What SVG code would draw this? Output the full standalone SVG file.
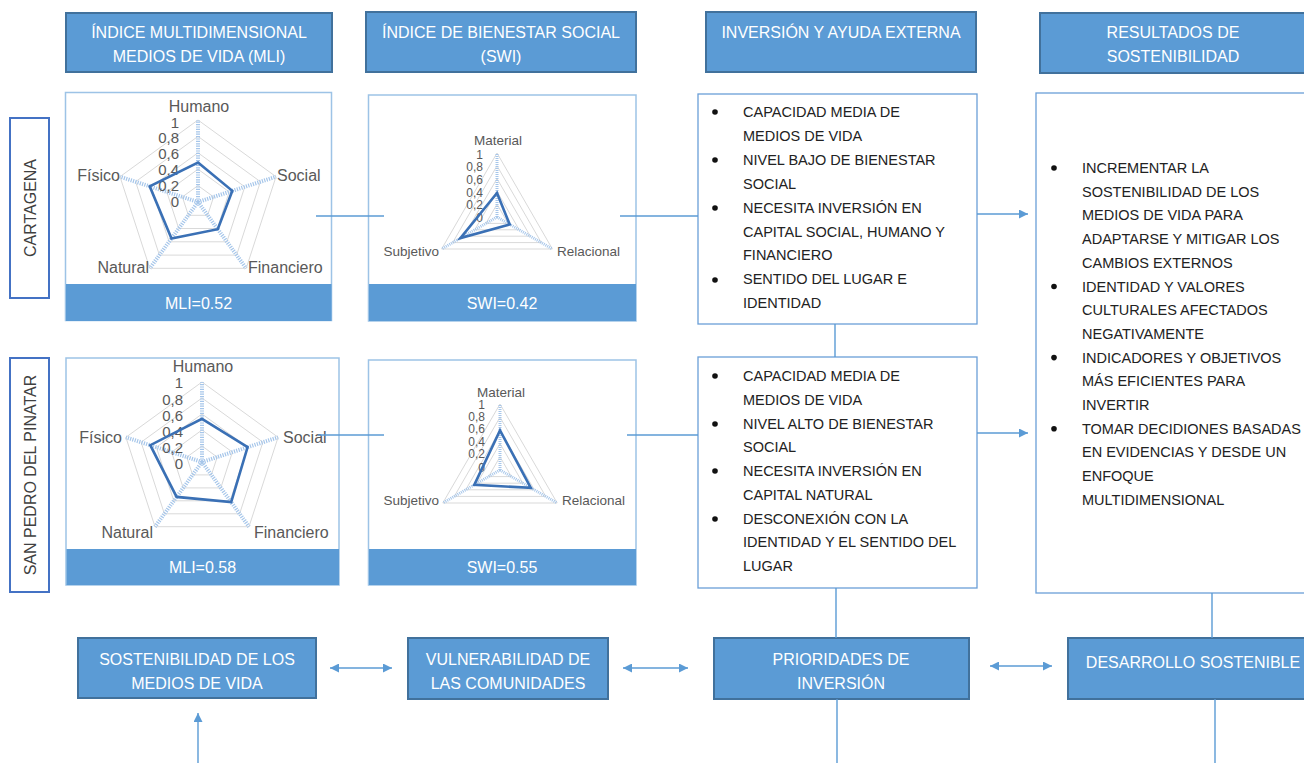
<svg xmlns="http://www.w3.org/2000/svg" width="1304" height="763" viewBox="0 0 1304 763">
<style>
.hdr{fill:#5b9bd5;stroke:#41719c;stroke-width:2}
.ht{font-family:"Liberation Sans",Arial,sans-serif;font-size:16px;fill:#ffffff;text-anchor:middle}
.cbox{fill:#ffffff;stroke:#9dc3e6;stroke-width:1.5}
.band{fill:#5b9bd5}
.tbox{fill:#ffffff;stroke:#6a9fd8;stroke-width:1.3}
.bt{font-family:"Liberation Sans",Arial,sans-serif;font-size:14.5px;fill:#222222}
.bul{fill:#111111}
.lbl{fill:#ffffff;stroke:#4472c4;stroke-width:2}
.lt{font-family:"Liberation Sans",Arial,sans-serif;font-size:16px;fill:#404040;text-anchor:middle}
.grid{fill:none;stroke:#d9d9d9;stroke-width:1}
.axis{stroke:#a6c6ea;stroke-width:4;stroke-dasharray:1.2 1.2}
.axis2{stroke:#a6c6ea;stroke-width:3;stroke-dasharray:1 1}
.data{fill:none;stroke:#3a70b5;stroke-width:2.6;stroke-linejoin:miter}
.ax{font-family:"Liberation Sans",Arial,sans-serif;font-size:16px;fill:#595959}
.axs{font-family:"Liberation Sans",Arial,sans-serif;font-size:13.5px;fill:#595959}
.sc{font-family:"Liberation Sans",Arial,sans-serif;font-size:15px;fill:#595959;text-anchor:end}
.scs{font-family:"Liberation Sans",Arial,sans-serif;font-size:12px;fill:#595959;text-anchor:end}
.val{font-family:"Liberation Sans",Arial,sans-serif;font-size:16px;fill:#ffffff;text-anchor:middle}
.con{stroke:#5b9bd5;stroke-width:1.4;fill:none}
</style>
<defs>
<marker id="ah" viewBox="0 0 10 10" refX="10" refY="5" markerWidth="9" markerHeight="9" markerUnits="userSpaceOnUse" orient="auto-start-reverse">
<path d="M0,0 L10,5 L0,10 z" fill="#5b9bd5"/>
</marker>
</defs>

<!-- Headers -->
<g id="h-mli"><rect class="hdr" x="66" y="13" width="266" height="59"/><text class="ht" x="199" y="37.5">ÍNDICE MULTIDIMENSIONAL</text><text class="ht" x="199" y="61.5">MEDIOS DE VIDA (MLI)</text></g>
<g id="h-swi"><rect class="hdr" x="366" y="12" width="270" height="60"/><text class="ht" x="501" y="37.5">ÍNDICE DE BIENESTAR SOCIAL</text><text class="ht" x="501" y="61.5">(SWI)</text></g>
<g id="h-inv"><rect class="hdr" x="706" y="12" width="270" height="60"/><text class="ht" x="841" y="37.5">INVERSIÓN Y AYUDA EXTERNA</text></g>
<g id="h-res"><rect class="hdr" x="1040" y="13" width="280" height="60"/><text class="ht" x="1173" y="37.5">RESULTADOS DE</text><text class="ht" x="1173" y="61.5">SOSTENIBILIDAD</text></g>

<!-- Row labels -->
<g id="lbl-cartagena"><rect class="lbl" x="10" y="118" width="39" height="180"/><text class="lt" transform="translate(35.5,208) rotate(-90)">CARTAGENA</text></g>
<g id="lbl-sanpedro"><rect class="lbl" x="10" y="358" width="39" height="234"/><text class="lt" transform="translate(35.5,475) rotate(-90)">SAN PEDRO DEL PINATAR</text></g>

<!-- MLI Cartagena -->
<g id="mli-cartagena">
<rect class="cbox" x="65.5" y="92.5" width="266" height="228"/>
<rect class="band" x="66" y="284" width="265.5" height="37"/>
<polygon class="grid" points="198,120 276,176.7 246.2,268.3 149.8,268.3 120,176.7"/>
<polygon class="grid" points="198,136.4 260.4,181.7 236.6,255.1 159.4,255.1 135.6,181.7"/>
<polygon class="grid" points="198,152.8 244.8,186.8 226.9,241.8 169.1,241.8 151.2,186.8"/>
<polygon class="grid" points="198,169.2 229.2,191.9 217.3,228.5 178.7,228.5 166.8,191.9"/>
<polygon class="grid" points="198,185.6 213.6,196.9 207.6,215.3 188.4,215.3 182.4,196.9"/>
<line class="axis" x1="198" y1="202" x2="198" y2="120"/>
<line class="axis" x1="198" y1="202" x2="276" y2="176.7"/>
<line class="axis" x1="198" y1="202" x2="246.2" y2="268.3"/>
<line class="axis" x1="198" y1="202" x2="149.8" y2="268.3"/>
<line class="axis" x1="198" y1="202" x2="120" y2="176.7"/>
<text class="sc" x="179" y="128">1</text><text class="sc" x="179" y="143">0,8</text><text class="sc" x="179" y="159">0,6</text><text class="sc" x="179" y="175">0,4</text><text class="sc" x="179" y="191">0,2</text><text class="sc" x="179" y="207">0</text>
<polygon class="data" points="198,162.6 232.3,190.8 217.8,229.2 171.5,238.5 149.7,186.3"/>
<text class="ax" x="199" y="112" text-anchor="middle">Humano</text>
<text class="ax" x="277" y="181">Social</text>
<text class="ax" x="248" y="273">Financiero</text>
<text class="ax" x="149" y="273" text-anchor="end">Natural</text>
<text class="ax" x="120" y="181" text-anchor="end">Físico</text>
<text class="val" x="198.5" y="308.5">MLI=0.52</text>
</g>

<!-- SWI Cartagena -->
<g id="swi-cartagena">
<rect class="cbox" x="368.5" y="95" width="267.5" height="226"/>
<rect class="band" x="369" y="284" width="267" height="37"/>
<polygon class="grid" points="497,153 552.4,249 441.6,249"/>
<polygon class="grid" points="497,165.8 541.3,242.6 452.7,242.6"/>
<polygon class="grid" points="497,178.6 530.3,236.2 463.7,236.2"/>
<polygon class="grid" points="497,191.4 519.2,229.8 474.8,229.8"/>
<polygon class="grid" points="497,204.2 508.1,223.4 485.9,223.4"/>
<line class="axis2" x1="497" y1="217" x2="497" y2="153"/>
<line class="axis2" x1="497" y1="217" x2="552.4" y2="249"/>
<line class="axis2" x1="497" y1="217" x2="441.6" y2="249"/>
<text class="scs" x="483" y="159">1</text><text class="scs" x="483" y="171">0,8</text><text class="scs" x="483" y="184">0,6</text><text class="scs" x="483" y="197">0,4</text><text class="scs" x="483" y="209">0,2</text><text class="scs" x="483" y="222">0</text>
<polygon class="data" points="497,193 509.7,224.4 460.4,238.1"/>
<text class="axs" x="498" y="145" text-anchor="middle">Material</text>
<text class="axs" x="439" y="256" text-anchor="end">Subjetivo</text>
<text class="axs" x="557" y="256">Relacional</text>
<text class="val" x="502" y="308.5">SWI=0.42</text>
</g>

<!-- MLI San Pedro -->
<g id="mli-sanpedro">
<rect class="cbox" x="66" y="358" width="273" height="227"/>
<rect class="band" x="66.5" y="549" width="272.5" height="36"/>
<polygon class="grid" points="202,382 278.1,437.3 249,526.7 155,526.7 125.9,437.3"/>
<polygon class="grid" points="202,398 262.9,442.2 239.6,513.8 164.4,513.8 141.1,442.2"/>
<polygon class="grid" points="202,414 247.6,447.2 230.2,500.8 173.8,500.8 156.4,447.2"/>
<polygon class="grid" points="202,430 232.4,452.1 220.8,487.9 183.2,487.9 171.6,452.1"/>
<polygon class="grid" points="202,446 217.2,457.1 211.4,474.9 192.6,474.9 186.8,457.1"/>
<line class="axis" x1="202" y1="462" x2="202" y2="382"/>
<line class="axis" x1="202" y1="462" x2="278.1" y2="437.3"/>
<line class="axis" x1="202" y1="462" x2="249" y2="526.7"/>
<line class="axis" x1="202" y1="462" x2="155" y2="526.7"/>
<line class="axis" x1="202" y1="462" x2="125.9" y2="437.3"/>
<text class="sc" x="183" y="388">1</text><text class="sc" x="183" y="405">0,8</text><text class="sc" x="183" y="421">0,6</text><text class="sc" x="183" y="437">0,4</text><text class="sc" x="183" y="453">0,2</text><text class="sc" x="183" y="469">0</text>
<polygon class="data" points="202,418.8 247.6,447.2 231.2,502.1 176.6,496.9 150.3,445.2"/>
<text class="ax" x="203" y="372" text-anchor="middle">Humano</text>
<text class="ax" x="283" y="443">Social</text>
<text class="ax" x="254" y="538">Financiero</text>
<text class="ax" x="153" y="538" text-anchor="end">Natural</text>
<text class="ax" x="122" y="443" text-anchor="end">Físico</text>
<text class="val" x="202.5" y="573">MLI=0.58</text>
</g>

<!-- SWI San Pedro -->
<g id="swi-sanpedro">
<rect class="cbox" x="368.5" y="360" width="267.5" height="225"/>
<rect class="band" x="369" y="549" width="267" height="36"/>
<polygon class="grid" points="500,404 557.2,503 442.8,503"/>
<polygon class="grid" points="500,417.2 545.7,496.4 454.3,496.4"/>
<polygon class="grid" points="500,430.4 534.3,489.8 465.7,489.8"/>
<polygon class="grid" points="500,443.6 522.9,483.2 477.1,483.2"/>
<polygon class="grid" points="500,456.8 511.4,476.6 488.6,476.6"/>
<line class="axis2" x1="500" y1="470" x2="500" y2="404"/>
<line class="axis2" x1="500" y1="470" x2="557.2" y2="503"/>
<line class="axis2" x1="500" y1="470" x2="442.8" y2="503"/>
<text class="scs" x="485" y="409">1</text><text class="scs" x="485" y="421">0,8</text><text class="scs" x="485" y="433">0,6</text><text class="scs" x="485" y="446">0,4</text><text class="scs" x="485" y="458">0,2</text><text class="scs" x="485" y="472">0</text>
<polygon class="data" points="500,430.4 530.8,487.8 474.3,484.9"/>
<text class="axs" x="501" y="397" text-anchor="middle">Material</text>
<text class="axs" x="439" y="505" text-anchor="end">Subjetivo</text>
<text class="axs" x="562" y="505">Relacional</text>
<text class="val" x="502" y="573">SWI=0.55</text>
</g>

<!-- Text box Cartagena -->
<g id="inv-cartagena">
<rect class="tbox" x="698" y="94" width="279" height="230"/>
<circle class="bul" cx="715" cy="112" r="2.8"/><circle class="bul" cx="715" cy="160" r="2.8"/><circle class="bul" cx="715" cy="208" r="2.8"/><circle class="bul" cx="715" cy="280" r="2.8"/>
<text class="bt" x="743" y="117">CAPACIDAD MEDIA DE<tspan x="743" dy="23.9">MEDIOS DE VIDA</tspan><tspan x="743" dy="23.9">NIVEL BAJO DE BIENESTAR</tspan><tspan x="743" dy="23.9">SOCIAL</tspan><tspan x="743" dy="23.9">NECESITA INVERSIÓN EN</tspan><tspan x="743" dy="23.9">CAPITAL SOCIAL, HUMANO Y</tspan><tspan x="743" dy="23.9">FINANCIERO</tspan><tspan x="743" dy="23.9">SENTIDO DEL LUGAR E</tspan><tspan x="743" dy="23.9">IDENTIDAD</tspan></text>
</g>

<!-- Text box San Pedro -->
<g id="inv-sanpedro">
<rect class="tbox" x="698" y="357" width="279" height="231"/>
<circle class="bul" cx="715" cy="376" r="2.8"/><circle class="bul" cx="715" cy="424" r="2.8"/><circle class="bul" cx="715" cy="471" r="2.8"/><circle class="bul" cx="715" cy="519" r="2.8"/>
<text class="bt" x="743" y="381">CAPACIDAD MEDIA DE<tspan x="743" dy="23.75">MEDIOS DE VIDA</tspan><tspan x="743" dy="23.75">NIVEL ALTO DE BIENESTAR</tspan><tspan x="743" dy="23.75">SOCIAL</tspan><tspan x="743" dy="23.75">NECESITA INVERSIÓN EN</tspan><tspan x="743" dy="23.75">CAPITAL NATURAL</tspan><tspan x="743" dy="23.75">DESCONEXIÓN CON LA</tspan><tspan x="743" dy="23.75">IDENTIDAD Y EL SENTIDO DEL</tspan><tspan x="743" dy="23.75">LUGAR</tspan></text>
</g>

<!-- Results box -->
<g id="resultados">
<rect class="tbox" x="1036" y="93" width="290" height="500"/>
<circle class="bul" cx="1054" cy="168" r="2.8"/><circle class="bul" cx="1054" cy="286.5" r="2.8"/><circle class="bul" cx="1054" cy="357.6" r="2.8"/><circle class="bul" cx="1054" cy="428.7" r="2.8"/>
<text class="bt" x="1082" y="173">INCREMENTAR LA<tspan x="1082" dy="23.7">SOSTENIBILIDAD DE LOS</tspan><tspan x="1082" dy="23.7">MEDIOS DE VIDA PARA</tspan><tspan x="1082" dy="23.7">ADAPTARSE Y MITIGAR LOS</tspan><tspan x="1082" dy="23.7">CAMBIOS EXTERNOS</tspan><tspan x="1082" dy="23.7">IDENTIDAD Y VALORES</tspan><tspan x="1082" dy="23.7">CULTURALES AFECTADOS</tspan><tspan x="1082" dy="23.7">NEGATIVAMENTE</tspan><tspan x="1082" dy="23.7">INDICADORES Y OBJETIVOS</tspan><tspan x="1082" dy="23.7">MÁS EFICIENTES PARA</tspan><tspan x="1082" dy="23.7">INVERTIR</tspan><tspan x="1082" dy="23.7">TOMAR DECIDIONES BASADAS</tspan><tspan x="1082" dy="23.7">EN EVIDENCIAS Y DESDE UN</tspan><tspan x="1082" dy="23.7">ENFOQUE</tspan><tspan x="1082" dy="23.7">MULTIDIMENSIONAL</tspan></text>
</g>

<!-- Bottom boxes -->
<g id="b-sost"><rect class="hdr" x="78" y="638" width="238" height="60"/><text class="ht" x="197" y="664.5">SOSTENIBILIDAD DE LOS</text><text class="ht" x="197" y="688.5">MEDIOS DE VIDA</text></g>
<g id="b-vuln"><rect class="hdr" x="408" y="638" width="200" height="61"/><text class="ht" x="508" y="664.5">VULNERABILIDAD DE</text><text class="ht" x="508" y="688.5">LAS COMUNIDADES</text></g>
<g id="b-prio"><rect class="hdr" x="714" y="638" width="255" height="61"/><text class="ht" x="841" y="664.5">PRIORIDADES DE</text><text class="ht" x="841" y="688.5">INVERSIÓN</text></g>
<g id="b-des"><rect class="hdr" x="1068" y="638" width="250" height="61"/><text class="ht" x="1193" y="667.5">DESARROLLO SOSTENIBLE</text></g>

<!-- Connectors -->
<g id="connectors">
<line class="con" x1="316" y1="216" x2="384" y2="216"/>
<line class="con" x1="620" y1="216" x2="698" y2="216"/>
<line class="con" x1="977" y1="214" x2="1028" y2="214" marker-end="url(#ah)"/>
<line class="con" x1="318" y1="435" x2="384" y2="435"/>
<line class="con" x1="627" y1="435" x2="698" y2="435"/>
<line class="con" x1="977" y1="433" x2="1028" y2="433" marker-end="url(#ah)"/>
<line class="con" x1="835" y1="324" x2="835" y2="357"/>
<line class="con" x1="836" y1="588" x2="836" y2="638"/>
<line class="con" x1="837" y1="699" x2="837" y2="763"/>
<line class="con" x1="1212" y1="593" x2="1212" y2="638"/>
<line class="con" x1="1215" y1="699" x2="1215" y2="763"/>
<line class="con" x1="330" y1="668" x2="392" y2="668" marker-start="url(#ah)" marker-end="url(#ah)"/>
<line class="con" x1="623" y1="668" x2="688" y2="668" marker-start="url(#ah)" marker-end="url(#ah)"/>
<line class="con" x1="990" y1="666" x2="1052" y2="666" marker-start="url(#ah)" marker-end="url(#ah)"/>
<line class="con" x1="198" y1="763" x2="198" y2="713" marker-end="url(#ah)"/>
</g>
</svg>
